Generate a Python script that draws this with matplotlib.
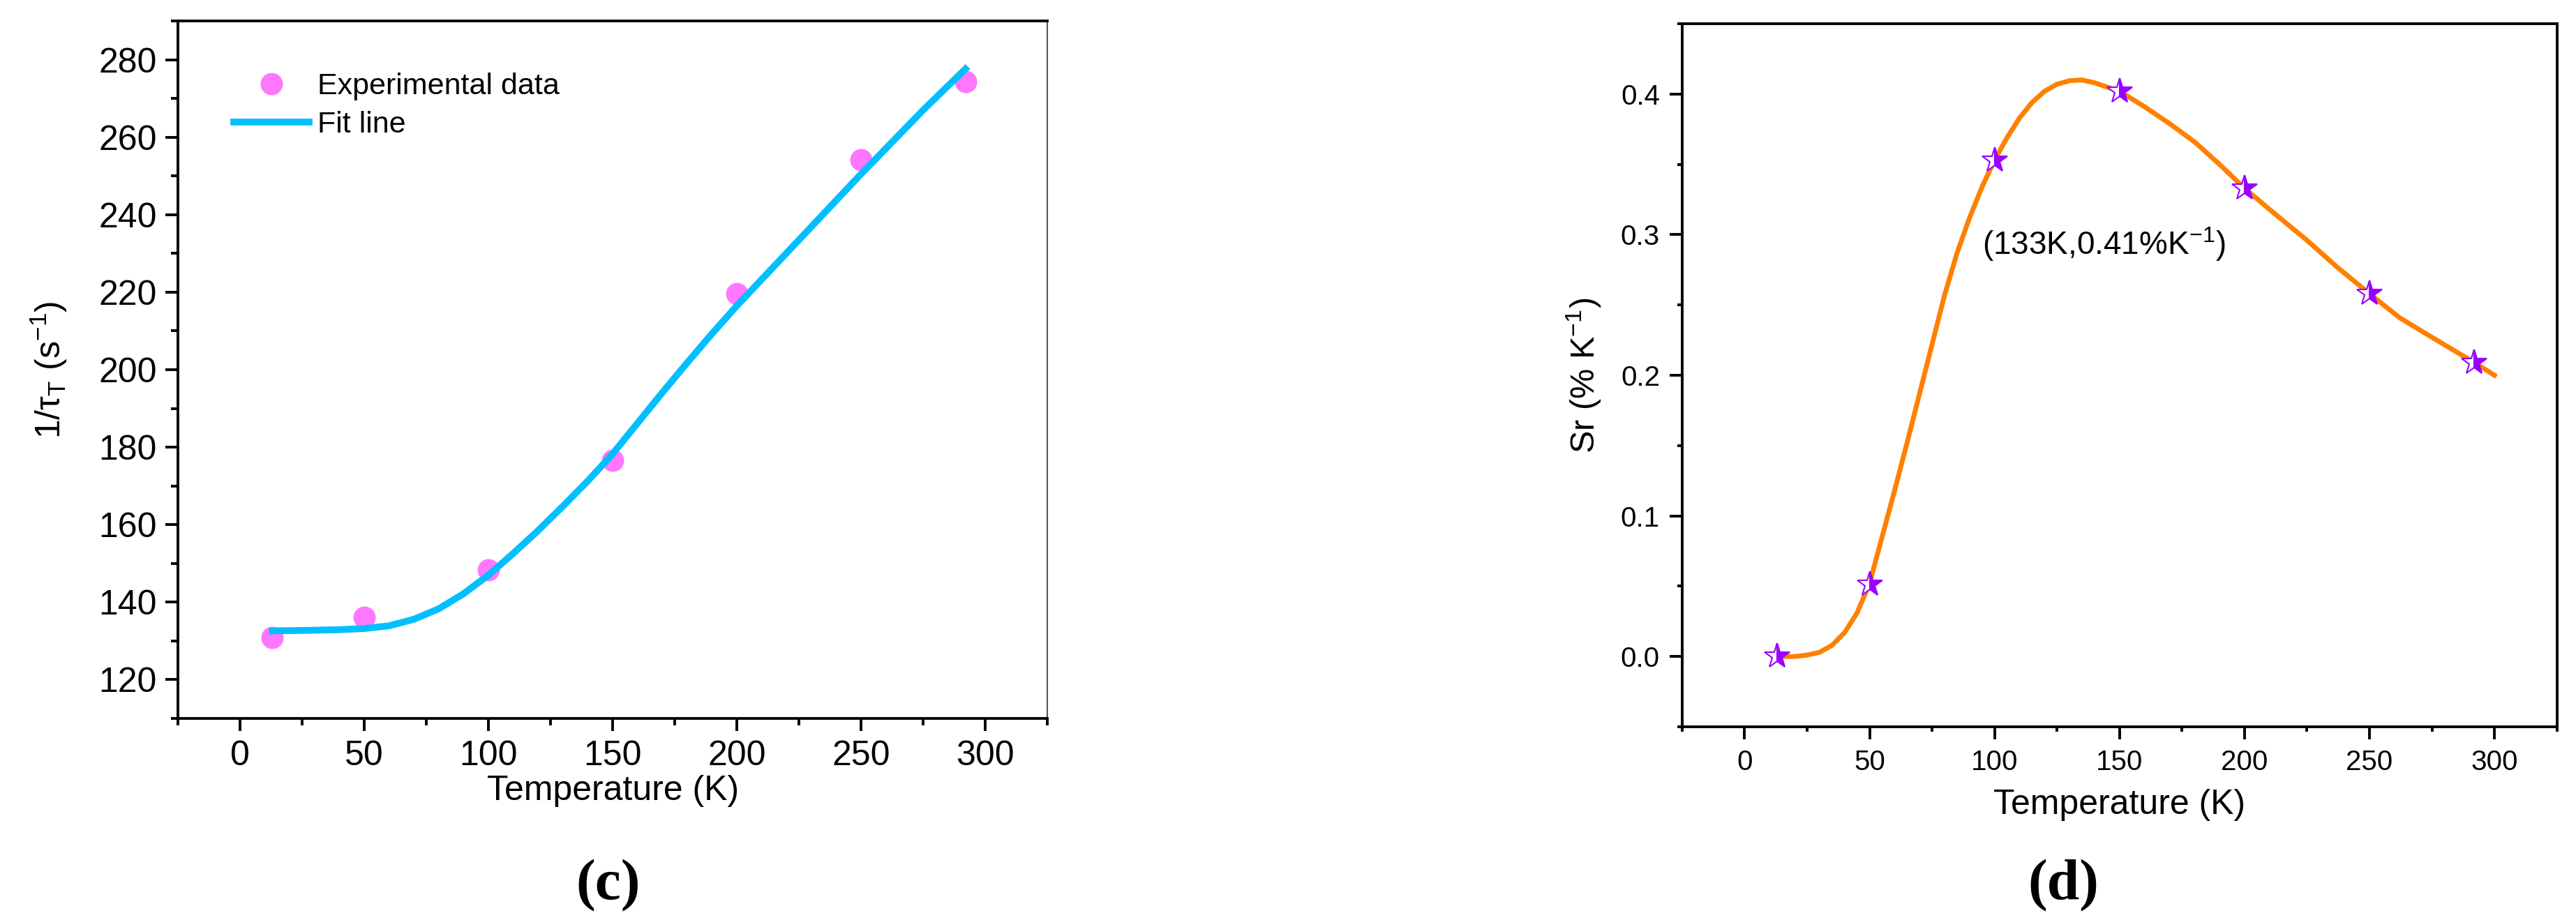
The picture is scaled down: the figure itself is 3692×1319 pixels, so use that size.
#------------------------------Librerias----------------------------------------
import numpy as np
import matplotlib
matplotlib.use('Agg')
import matplotlib.pyplot as plt
from matplotlib.ticker import MultipleLocator, FormatStrFormatter
#-------------------------------------------------------------------------------

plt.rcParams['font.family'] = ['Liberation Sans', 'DejaVu Sans']
plt.rcParams['mathtext.fontset'] = 'custom'
plt.rcParams['mathtext.rm'] = 'Liberation Sans'
plt.rcParams['mathtext.it'] = 'Liberation Sans:italic'

#------------------------------Datos (c)----------------------------------------
T_exp = [13, 50, 100, 150, 200, 250, 292]
tau_exp = [130.8, 136.1, 148.4, 176.6, 219.6, 254.2, 274.3]
T_fit = [13, 25, 40, 50, 60, 70, 80, 90, 100, 110, 120, 130, 140, 150, 160,
         170, 180, 190, 200, 225, 250, 275, 292]
tau_fit = [132.6, 132.7, 132.9, 133.2, 133.9, 135.6, 138.3, 142.2, 147.0,
           152.6, 158.5, 164.8, 171.3, 178.3, 186.2, 194.1, 201.8, 209.3,
           216.5, 233.5, 250.5, 267.0, 277.6]

#------------------------------Datos (d)----------------------------------------
T_sr = [13, 50, 100, 150, 200, 250, 292]
sr = [0.000, 0.051, 0.353, 0.402, 0.333, 0.258, 0.209]
T_curve = [13, 20, 25, 30, 35, 40, 45, 50, 55, 60, 65, 70, 75, 80, 85, 90, 95,
           100, 105, 110, 115, 120, 125, 130, 135, 140, 145, 150, 160, 170,
           180, 190, 200, 212, 225, 237, 250, 262, 275, 292, 300]
sr_curve = [0.000, 0.000, 0.001, 0.003, 0.008, 0.017, 0.031, 0.052, 0.085,
            0.118, 0.152, 0.187, 0.222, 0.257, 0.287, 0.312, 0.334, 0.353,
            0.369, 0.383, 0.394, 0.402, 0.407, 0.4095, 0.410, 0.408, 0.405,
            0.402, 0.391, 0.379, 0.366, 0.350, 0.333, 0.315, 0.296, 0.277,
            0.258, 0.241, 0.227, 0.209, 0.200]
#-------------------------------------------------------------------------------

fig = plt.figure(figsize=(36.92, 13.19), dpi=100)
ax1 = fig.add_axes([0.0691, 0.2191, 0.3375, 0.7582])
ax2 = fig.add_axes([0.6530, 0.2100, 0.3396, 0.7642])

#------------------------------Grafica (c)--------------------------------------
ax1.plot(T_exp, tau_exp, 'o', ms=22, color='#FF77FF', label='Experimental data', zorder=2)
ax1.plot(T_fit, tau_fit, '-', lw=7, color='#00BFFF', label='Fit line', zorder=3,
         solid_joinstyle='round')
ax1.set_xlim(-25, 325)
ax1.set_ylim(110, 290)
ax1.xaxis.set_major_locator(MultipleLocator(50))
ax1.xaxis.set_minor_locator(MultipleLocator(25))
ax1.yaxis.set_major_locator(MultipleLocator(20))
ax1.yaxis.set_minor_locator(MultipleLocator(10))
ax1.tick_params(which='both', direction='out', top=False, right=False, width=2.8)
ax1.tick_params(which='major', length=13, labelsize=36, pad=9)
ax1.tick_params(which='minor', length=7)
for s in ['top', 'left', 'bottom']:
    ax1.spines[s].set_linewidth(2.8)
ax1.spines['right'].set_linewidth(1.5)
ax1.spines['right'].set_color('#555555')
ax1.set_xlabel('Temperature (K)', fontsize=36, labelpad=3)
ax1.set_ylabel(r'1/$\mathrm{\tau}_\mathrm{T}$ (s$^{-1}$)', fontsize=36, labelpad=30)
ax1.legend(frameon=False, loc='upper left', bbox_to_anchor=(0.064, 0.926),
           borderpad=0, borderaxespad=0, handlelength=2.5, handletextpad=0.3,
           labelspacing=0.35, numpoints=1, fontsize=31)

#------------------------------Grafica (d)--------------------------------------
ax2.plot(T_curve, sr_curve, '-', lw=5, color='#FF8000', zorder=2,
         solid_joinstyle='round')
ax2.plot(T_sr, sr, linestyle='none', marker='*', ms=27, fillstyle='right',
         markerfacecolor='#9900FF', markerfacecoloralt='white',
         markeredgecolor='#9900FF', markeredgewidth=1.5, zorder=3)
ax2.text(95, 0.293, r'(133K,0.41%K$^{-1}$)', fontsize=33, ha='left', va='center')
ax2.set_xlim(-25, 325)
ax2.set_ylim(-0.05, 0.45)
ax2.xaxis.set_major_locator(MultipleLocator(50))
ax2.xaxis.set_minor_locator(MultipleLocator(25))
ax2.yaxis.set_major_locator(MultipleLocator(0.1))
ax2.yaxis.set_minor_locator(MultipleLocator(0.05))
ax2.yaxis.set_major_formatter(FormatStrFormatter('%.1f'))
ax2.tick_params(which='both', direction='out', top=False, right=False, width=2.8)
ax2.tick_params(which='major', length=13, labelsize=29, pad=10)
ax2.tick_params(which='minor', length=5)
for s in ['top', 'left', 'bottom', 'right']:
    ax2.spines[s].set_linewidth(2.8)
ax2.set_xlabel('Temperature (K)', fontsize=36, labelpad=14)
ax2.set_ylabel(r'Sr (% K$^{-1}$)', fontsize=35, labelpad=18)

#------------------------------Etiquetas----------------------------------------
fig.text(0.236, 0.0227, '(c)', fontsize=60, fontweight='bold',
         family='Liberation Serif', ha='center', va='baseline')
fig.text(0.801, 0.0227, '(d)', fontsize=60, fontweight='bold',
         family='Liberation Serif', ha='center', va='baseline')

fig.savefig('out.png', dpi=100)
